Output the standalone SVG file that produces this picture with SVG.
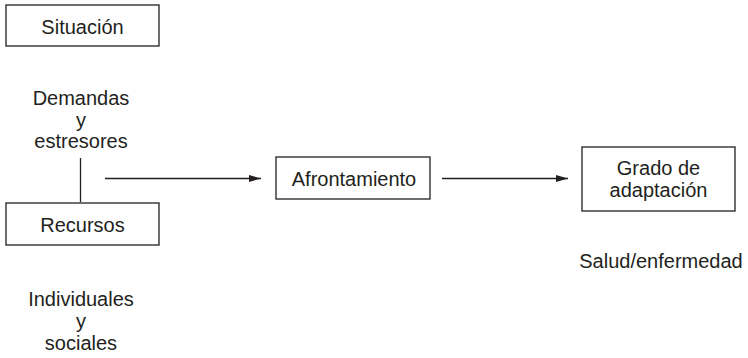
<svg xmlns="http://www.w3.org/2000/svg" width="748" height="358" viewBox="0 0 748 358">
<defs>
<style>
.box{fill:#fff;stroke:#231f20;stroke-width:1.3}
.t{font-family:"Liberation Sans",Arial,sans-serif;font-size:20px;fill:#231f20;text-anchor:middle}
.ln{stroke:#231f20;stroke-width:1.3;fill:none}
</style>
<marker id="ah" markerWidth="12" markerHeight="8" refX="12" refY="4" orient="auto" markerUnits="userSpaceOnUse">
<path d="M0,0.5 L12,4 L0,7.5 Z" fill="#231f20"/>
</marker>
</defs>
<rect width="748" height="358" fill="#fff"/>
<g id="connectors">
<line class="ln" x1="80.5" y1="158" x2="80.5" y2="202"/>
<line class="ln" x1="105" y1="178.5" x2="261" y2="178.5" marker-end="url(#ah)"/>
<line class="ln" x1="442" y1="178.5" x2="568" y2="178.5" marker-end="url(#ah)"/>
</g>
<g id="situacion">
<rect class="box" x="6" y="5" width="153" height="41"/>
<text class="t" x="82.5" y="34">Situación</text>
</g>
<g id="demandas">
<text class="t" x="81" y="105">Demandas</text>
<text class="t" x="81" y="126.5">y</text>
<text class="t" x="81" y="148">estresores</text>
</g>
<g id="recursos">
<rect class="box" x="6" y="203" width="153" height="42"/>
<text class="t" x="82.5" y="232">Recursos</text>
</g>
<g id="individuales">
<text class="t" x="81" y="306">Individuales</text>
<text class="t" x="81" y="328">y</text>
<text class="t" x="81" y="350">sociales</text>
</g>
<g id="afrontamiento">
<rect class="box" x="276" y="157" width="154" height="42"/>
<text class="t" x="354" y="186">Afrontamiento</text>
</g>
<g id="grado">
<rect class="box" x="582" y="147" width="153" height="64"/>
<text class="t" x="658.5" y="175">Grado de</text>
<text class="t" x="658.5" y="197">adaptación</text>
</g>
<g id="salud">
<text class="t" x="661" y="268">Salud/enfermedad</text>
</g>
</svg>
